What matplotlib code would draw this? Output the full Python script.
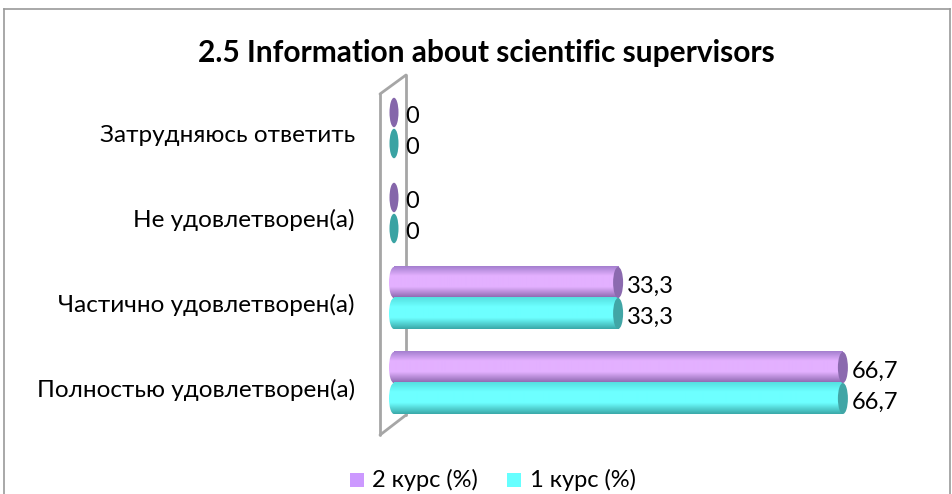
import numpy as np
import matplotlib
matplotlib.use("Agg")
import matplotlib.pyplot as plt
from matplotlib.patches import Ellipse, Rectangle
from matplotlib.colors import to_rgb
from matplotlib.lines import Line2D

title = "2.5 Information about scientific supervisors"
categories = ["Полностью удовлетворен(а)", "Частично удовлетворен(а)",
              "Не удовлетворен(а)", "Затрудняюсь ответить"]
series_names = ["2 курс (%)", "1 курс (%)"]
values_2 = [66.7, 33.3, 0, 0]
values_1 = [66.7, 33.3, 0, 0]
value_labels_2 = ["66,7", "33,3", "0", "0"]
value_labels_1 = ["66,7", "33,3", "0", "0"]

W, H = 953, 494
fig = plt.figure(figsize=(W / 100, H / 100), dpi=100)
fig.patch.set_facecolor("white")

# figure border
bc = dict(transform=fig.transFigure, color="#9a9a9a", lw=1.2)
fig.add_artist(Line2D([4 / W, 4 / W], [0, 1 - 9 / H], **bc))
fig.add_artist(Line2D([4 / W, 950 / W], [1 - 9 / H, 1 - 9 / H], **bc))
fig.add_artist(Line2D([950 / W, 950 / W], [0, 1 - 9 / H], **bc))

ax_l, ax_r, ax_t, ax_b = 375, 900, 60, 450
ax = fig.add_axes([ax_l / W, 1 - ax_b / H, (ax_r - ax_l) / W, (ax_b - ax_t) / H])
ax.set_axis_off()

px_per_unit = 6.73
x0px = 394
def px2x(p):
    return (p - x0px) / px_per_unit
cat0_px, spacing = 383.0, 85.0
def py2y(p):
    return (cat0_px - p) / spacing

xlim = (px2x(ax_l), px2x(ax_r))
ylim = (py2y(ax_b), py2y(ax_t))

# 3D wall
wall = dict(color="#a6a6a6", lw=2, zorder=1, solid_capstyle="round")
fx, bx = px2x(380), px2x(406)
ax.plot([fx, fx], [py2y(94), py2y(435)], **wall)
ax.plot([bx, bx], [py2y(75), py2y(415)], **wall)
ax.plot([fx, bx], [py2y(94), py2y(75)], **wall)
ax.plot([fx, bx], [py2y(435), py2y(415)], **wall)

bar_h = 0.365
cap_w = 10 / px_per_unit

def gradient_colors(top, light, bottom, n=64):
    t = np.linspace(0, 1, n)
    top, light, bottom = map(np.array, map(to_rgb, (top, light, bottom)))
    out = np.zeros((n, 1, 3))
    for i, v in enumerate(t):
        if v < 0.3:
            f = v / 0.3
            c = top * (1 - f) + light * f
        elif v < 0.65:
            c = light
        else:
            f = (v - 0.65) / 0.35
            c = light * (1 - f) + bottom * f
        out[i, 0] = c
    return out

styles = [
    dict(top="#a47fcf", light="#e3b0ff", bottom="#8a66ad", cap="#8b6aaf", zero="#8566aa"),
    dict(top="#55e0e0", light="#6dffff", bottom="#3aa9a9", cap="#41a6a6", zero="#3aa3a3"),
]

FS = 17
for si, (vals, labs) in enumerate([(values_2, value_labels_2), (values_1, value_labels_1)]):
    st = styles[si]
    grad = gradient_colors(st["top"], st["light"], st["bottom"])
    for ci, v in enumerate(vals):
        yc = ci + (bar_h / 2 if si == 0 else -bar_h / 2)
        y0, y1 = yc - bar_h / 2, yc + bar_h / 2
        if v > 0:
            ax.imshow(grad, extent=[0, v, y0, y1], aspect="auto", origin="upper",
                      interpolation="bilinear", zorder=3)
            clip = Ellipse((0, yc), cap_w, bar_h, facecolor="none", edgecolor="none", zorder=0)
            ax.add_patch(clip)
            ax.imshow(grad, extent=[-cap_w / 2, 0.05, y0, y1], aspect="auto", origin="upper",
                      interpolation="bilinear", zorder=2.6, clip_path=clip)
            ax.add_patch(Ellipse((v, yc), cap_w, bar_h, facecolor=st["cap"],
                                 edgecolor="none", zorder=4))
        else:
            ax.add_patch(Ellipse((0, yc), 9 / px_per_unit, bar_h * 0.95, facecolor=st["zero"],
                                 edgecolor="none", zorder=4))
        ax.annotate(labs[ci], xy=(v, yc), xytext=(9 if v > 0 else 11, -4), textcoords="offset pixels",
                    ha="left", va="center", fontsize=FS, family="Lato", color="black", zorder=5)

for ci, cat in enumerate(categories):
    ax.annotate(cat, xy=(px2x(355), ci), xytext=(0, -7), textcoords="offset pixels",
                ha="right", va="center", fontsize=17.5, family="Lato", color="black",
                annotation_clip=False)

ax.set_xlim(*xlim)
ax.set_ylim(*ylim)

fig.text(486 / W, 1 - 53 / H, title, ha="center", va="center", fontsize=21.5,
         fontweight="bold", family="Lato", color="black")

# legend
leg_items = [(series_names[0], "#cc99ff", 350, 372), (series_names[1], "#66ffff", 507, 530)]
for name, col, xpx, tx in leg_items:
    fig.patches.append(Rectangle((xpx / W, 1 - 487 / H), 14 / W, 14 / H,
                                 transform=fig.transFigure, facecolor=col, edgecolor="none"))
    fig.text(tx / W, 1 - 480 / H, name, ha="left", va="center", fontsize=FS,
             family="Lato", color="black")

fig.savefig("out.png", dpi=100, facecolor="white")
